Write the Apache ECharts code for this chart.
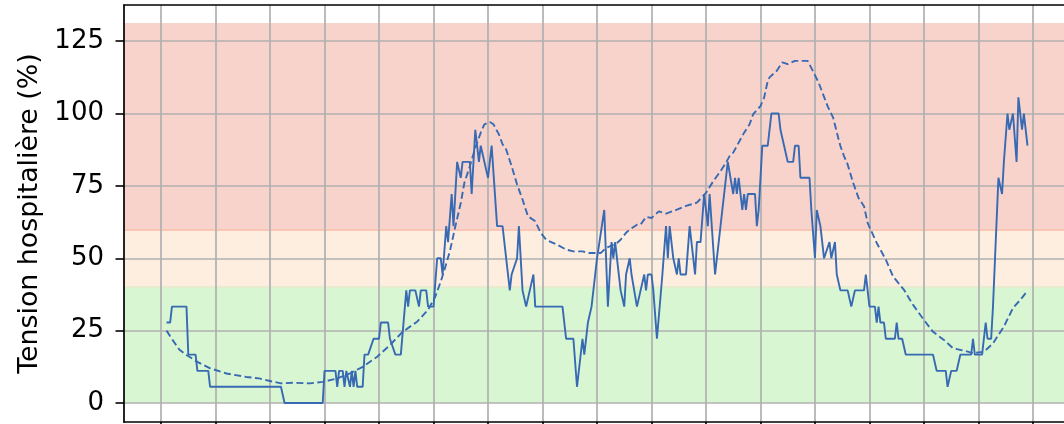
<!DOCTYPE html>
<html>
<head>
<meta charset="utf-8">
<script src="https://cdn.jsdelivr.net/npm/echarts@6/dist/echarts.min.js"></script>
<style>
html,body{margin:0;padding:0;background:#ffffff;}
#chart{width:1064px;height:424px;}
</style>
</head>
<body>
<div id="chart"></div>
<script>
// ---- data ----
const yAxisTitle = 'Tension hospitalière (%)';
const yTicks = [0, 25, 50, 75, 100, 125];
const xGridDays = [0, 30, 60, 90, 120, 150, 180, 210, 240, 270, 300, 330, 360, 390, 420, 450, 480];
const bandEdges = [0, 40, 60, 131.25];
const bandColors = ['#d9f6d3', '#feeee0', '#f8d3cc'];
const bandLineColors = ['#e6eccd', '#f9c6b6'];

// daily hospital tension (solid line): day index and value (%)
const solidDays = [3,5,6,14,15,19,20,26,27,66,68,89,90,96,97,98,100,101,102,103,104,105,106,107,108,111,112,114,117,120,121,125,126,129,132,135,136,137,140,142,143,146,147,150,152,154,155,157,158,159,160,161,162,163,165,166,170,171,173,174,175,176,177,178,180,181,182,185,188,190,191,192,193,194,196,197,199,201,202,203,204,205,206,221,223,227,229,232,233,235,236,237,238,239,240,241,244,246,248,249,250,251,253,254,255,256,257,258,259,260,262,263,264,265,266,267,268,270,271,273,276,278,279,280,281,282,283,284,285,286,289,291,292,294,295,297,299,300,301,302,303,305,306,309,310,311,312,313,315,316,317,318,319,320,321,322,323,327,328,329,331,334,336,340,341,342,343,344,345,348,349,351,352,357,358,360,361,362,363,365,366,368,369,370,371,372,373,374,378,380,381,382,387,388,389,390,393,394,395,396,398,399,404,405,406,408,410,425,427,432,433,434,435,438,440,446,447,448,452,454,455,457,458,461,462,463,464,466,467,468,469,471,472,473,474,475,476,477];
const solidValues = [27.8,27.8,33.3,33.3,16.7,16.7,11.1,11.1,5.6,5.6,0,0,11.1,11.1,5.6,11.1,11.1,5.6,11.1,11.1,5.6,11.1,5.6,11.1,5.6,5.6,16.7,16.7,22.2,22.2,27.8,27.8,22.2,16.7,16.7,38.9,33.3,38.9,38.9,33.3,38.9,38.9,33.3,33.3,50,50,44.4,61.1,55.6,55.6,72.2,61.1,61.1,83.3,77.8,83.3,83.3,72.2,94.4,88.9,83.3,88.9,88.9,83.3,77.8,77.8,88.9,61.1,61.1,50,50,38.9,44.4,44.4,50,61.1,38.9,33.3,33.3,38.9,38.9,44.4,33.3,33.3,22.2,22.2,5.6,22.2,16.7,27.8,27.8,33.3,33.3,44.4,50,50,66.7,33.3,55.6,50,55.6,50,38.9,38.9,33.3,44.4,44.4,50,44.4,44.4,33.3,33.3,38.9,38.9,44.4,38.9,44.4,44.4,38.9,22.2,44.4,61.1,50,61.1,61.1,50,50,44.4,50,44.4,44.4,61.1,55.6,44.4,55.6,55.6,72.2,72.2,61.1,72.2,72.2,44.4,44.4,66.7,66.7,77.8,83.3,83.3,72.2,77.8,72.2,77.8,77.8,66.7,72.2,66.7,72.2,72.2,61.1,66.7,88.9,88.9,100,100,94.4,94.4,88.9,88.9,83.3,83.3,88.9,88.9,77.8,77.8,66.7,50,66.7,66.7,61.1,50,50,55.6,50,50,55.6,44.4,44.4,38.9,38.9,33.3,33.3,38.9,38.9,44.4,44.4,33.3,33.3,27.8,33.3,27.8,27.8,22.2,22.2,27.8,22.2,22.2,16.7,16.7,11.1,11.1,5.6,5.6,11.1,11.1,16.7,16.7,22.2,16.7,16.7,27.8,22.2,22.2,33.3,77.8,77.8,72.2,83.3,100,94.4,94.4,100,83.3,105.6,100,94.4,100,100,88.9];

// smoothed tension (dashed line): day index and value (%)
const avgDays = [3,7,10,14,20,27,36,47,54,60,66,73,82,89,97,104,111,119,126,133,141,147,151,154,156,159,162,165,167,170,173,176,178,181,183,186,188,190,193,196,199,202,206,209,212,218,223,227,232,236,240,242,245,247,251,253,256,258,262,264,267,270,274,278,284,289,295,300,304,308,311,313,315,319,321,324,326,330,332,334,335,339,342,345,349,354,356,359,362,363,367,370,373,374,376,378,381,384,387,389,394,399,403,409,414,420,425,431,436,442,447,453,458,464,469,473,476,477];
const avgValues = [25.0,21.2,18.5,16.6,14.2,12.0,10.2,9.0,8.5,7.6,6.8,7.0,6.8,7.3,8.5,10.2,12.5,16.0,20.0,24.6,28.1,32.2,36.8,42.0,46.0,52.4,61.0,69.1,76.1,81.8,88.2,93.4,96.3,97.1,96.3,92.8,89.4,87.6,81.8,75.5,70.3,64.5,62.8,58.8,56.4,54.7,53.0,52.4,52.4,51.8,51.8,51.8,53.6,54.1,55.3,56.4,58.8,59.9,61.6,61.6,64.3,63.9,66.2,65.4,66.8,68.1,69.2,72.6,76.6,80.1,83.0,85.3,86.5,91.1,93.4,96.3,99.8,102.6,105.5,111.3,112.5,114.8,117.7,117.1,118.2,118.2,118.2,114.5,110.7,111.3,102.5,98.6,91.1,88.8,85.3,82.4,76.1,70.8,68.0,62.2,55.3,49.5,43.7,39.1,33.9,28.7,24.6,21.8,18.9,18.1,17.2,17.7,20.6,26.4,32.8,35.6,38.0,38.5];

// ---- chart ----
const FONT = 'DejaVu Sans';
const LINE_COLOR = '#376ab3';
const solidData = solidDays.map((d, i) => [d, solidValues[i]]);
const avgData = avgDays.map((d, i) => [d, avgValues[i]]);
const bandAreas = bandColors.map((c, i) => [
  { yAxis: bandEdges[i], itemStyle: { color: c } },
  { yAxis: bandEdges[i + 1] }
]);
const bandLines = bandLineColors.map((c, i) => ({
  yAxis: bandEdges[i + 1], lineStyle: { color: c, width: 2, type: 'solid' }
}));

const chart = echarts.init(document.getElementById('chart'), null, { renderer: 'canvas' });
chart.setOption({
  animation: false,
  backgroundColor: '#ffffff',
  grid: { left: 124, right: 0, top: 5, bottom: 2, containLabel: false },
  xAxis: [
    {
      type: 'value', min: -20.4, max: 497.1, position: 'bottom', z: 2,
      axisLine: { show: true, onZero: false, lineStyle: { color: '#000000', width: 1.7 } },
      axisTick: { show: true, customValues: xGridDays, inside: false, length: 6, lineStyle: { color: '#000000', width: 1.6 } },
      axisLabel: { show: false },
      splitLine: { show: true, lineStyle: { color: '#b0b0b0', width: 1.7 } }
    },
    {
      type: 'value', min: -20.4, max: 497.1, position: 'top', z: 2,
      axisLine: { show: true, onZero: false, lineStyle: { color: '#000000', width: 1.7 } },
      axisTick: { show: false }, axisLabel: { show: false }, splitLine: { show: false }
    }
  ],
  yAxis: {
    type: 'value', min: -6.56, max: 137.5, z: 2,
    name: yAxisTitle, nameLocation: 'middle', nameGap: 79,
    nameTextStyle: { fontFamily: FONT, fontSize: 26.8, color: '#000000' },
    axisLine: { show: true, onZero: false, lineStyle: { color: '#000000', width: 1.7 } },
    axisTick: { show: true, customValues: yTicks, inside: false, length: 8.5, lineStyle: { color: '#000000', width: 1.6 } },
    axisLabel: { show: true, customValues: yTicks, margin: 20, fontFamily: FONT, fontSize: 26, color: '#000000' },
    splitLine: { show: true, lineStyle: { color: '#b0b0b0', width: 1.7 } }
  },
  series: [
    {
      type: 'line', data: [], z: 1, silent: true,
      markArea: { silent: true, z: 1, data: bandAreas, itemStyle: { borderWidth: 0 } },
      markLine: { silent: true, z: 1, symbol: ['none', 'none'], label: { show: false }, data: bandLines }
    },
    {
      type: 'line', data: avgData, z: 3, showSymbol: false, symbol: 'none', silent: true,
      lineStyle: { color: LINE_COLOR, width: 1.9, type: [7, 3.5] }
    },
    {
      type: 'line', data: solidData, z: 4, showSymbol: false, symbol: 'none', silent: true,
      lineStyle: { color: LINE_COLOR, width: 1.9, type: 'solid' }
    }
  ]
});
</script>
</body>
</html>
